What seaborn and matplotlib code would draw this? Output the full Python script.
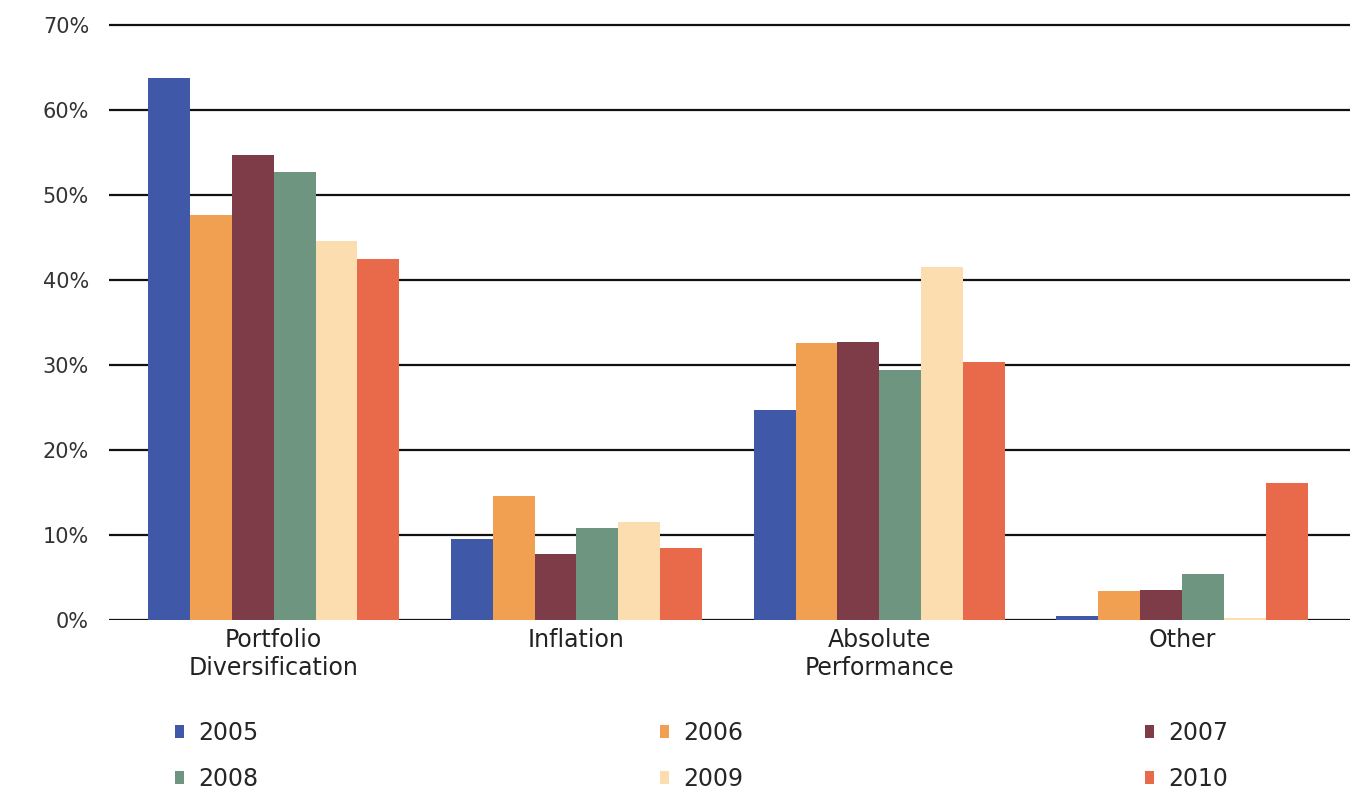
import pandas as pd
import numpy as np
import matplotlib
matplotlib.use("Agg")
import matplotlib.pyplot as plt
import seaborn as sns

# data (percent)
categories = ["Portfolio\nDiversification", "Inflation", "Absolute\nPerformance", "Other"]
years = ["2005", "2006", "2007", "2008", "2009", "2010"]
vals_2005 = [63.8, 9.6, 24.7, 0.5]
vals_2006 = [47.7, 14.6, 32.6, 3.4]
vals_2007 = [54.8, 7.8, 32.7, 3.5]
vals_2008 = [52.8, 10.8, 29.5, 5.4]
vals_2009 = [44.6, 11.5, 41.6, 0.3]
vals_2010 = [42.5, 8.5, 30.4, 16.1]
colors = ["#4058A8", "#F0A050", "#7E3C48", "#6E9580", "#FBDDB0", "#E86A4A"]

series = [vals_2005, vals_2006, vals_2007, vals_2008, vals_2009, vals_2010]
rows = []
for yr, vals in zip(years, series):
    for cat, v in zip(categories, vals):
        rows.append({"Category": cat, "Year": yr, "Value": v})
df = pd.DataFrame(rows)

sns.set_style("white")
plt.rcParams["font.family"] = ["DejaVu Sans"]

fig = plt.figure(figsize=(13.57, 7.90), dpi=100)
ax = fig.add_axes([0.08, 0.215, 0.915, 0.756])

sns.barplot(data=df, x="Category", y="Value", hue="Year", order=categories,
            hue_order=years, palette=colors, width=0.83, saturation=1,
            linewidth=0, ax=ax)

ax.set_ylim(0, 70.3)
ax.set_xlim(-0.545, 3.555)
ax.set_yticks(np.arange(0, 71, 10))
ax.set_yticklabels([f"{t}%" for t in range(0, 71, 10)], fontsize=15, color="#333333")
ax.tick_params(axis="x", labelsize=17, pad=6, length=0, colors="#222222")
ax.tick_params(axis="y", length=0, pad=14)
ax.set_xlabel("")
ax.set_ylabel("")
ax.yaxis.grid(True, color="#111111", linewidth=1.6)
ax.set_axisbelow(True)
for s in ax.spines.values():
    s.set_visible(False)

# legend laid out row by row, three columns
handles, labels = ax.get_legend_handles_labels()
ax.get_legend().remove()
order = [0, 3, 1, 4, 2, 5]
fig.legend([handles[i] for i in order], [labels[i] for i in order],
           loc="center", bbox_to_anchor=(0.517, 0.043), ncol=3, frameon=False,
           fontsize=17, handlelength=0.4, handleheight=0.45, handletextpad=0.6,
           columnspacing=17.0, labelspacing=0.95)

plt.savefig("out.png", dpi=100)
